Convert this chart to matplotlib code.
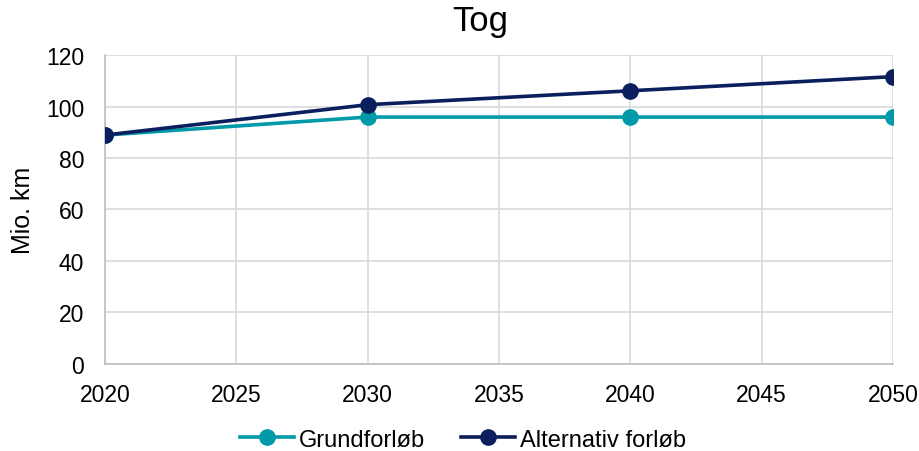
import matplotlib.pyplot as plt

plt.rcParams['font.family'] = ['Liberation Sans', 'DejaVu Sans']

years = [2020, 2030, 2040, 2050]
grundforloeb = [88.9, 95.9, 95.9, 95.9]
alternativ = [88.9, 100.7, 106.1, 111.6]

teal = '#0099A8'
navy = '#0B1F5E'

fig = plt.figure(figsize=(9.2, 4.52), dpi=100)
ax = fig.add_axes([0.1141, 0.1925, 0.8566, 0.6836])

ax.plot(years, grundforloeb, color=teal, lw=2.6, marker='o', ms=11, label='Grundforløb', zorder=3)
ax.plot(years, alternativ, color=navy, lw=2.6, marker='o', ms=11, label='Alternativ forløb', zorder=4)

ax.set_xlim(2020, 2050)
ax.set_ylim(0, 120)
ax.set_xticks(range(2020, 2051, 5))
ax.set_yticks(range(0, 121, 20))
ax.grid(True, color='#D9D9D9', lw=1.2)
ax.set_axisbelow(True)
for s in ['top', 'right']:
    ax.spines[s].set_visible(False)
for s in ['left', 'bottom']:
    ax.spines[s].set_color('#BFBFBF')
    ax.spines[s].set_linewidth(1.2)
ax.tick_params(length=0, labelsize=16.5, colors='#000000')
ax.tick_params(axis='y', pad=15)
ax.tick_params(axis='x', pad=14)
ax.set_ylabel('Mio. km', fontsize=18, labelpad=8)
fig.suptitle('Tog', fontsize=25, x=0.522, y=0.99)

fig.legend(loc='center', bbox_to_anchor=(0.503, 0.025), ncol=2, frameon=False,
           fontsize=17, handlelength=2.3, columnspacing=1.5, handletextpad=0.2)

fig.savefig('out.png', dpi=100)
